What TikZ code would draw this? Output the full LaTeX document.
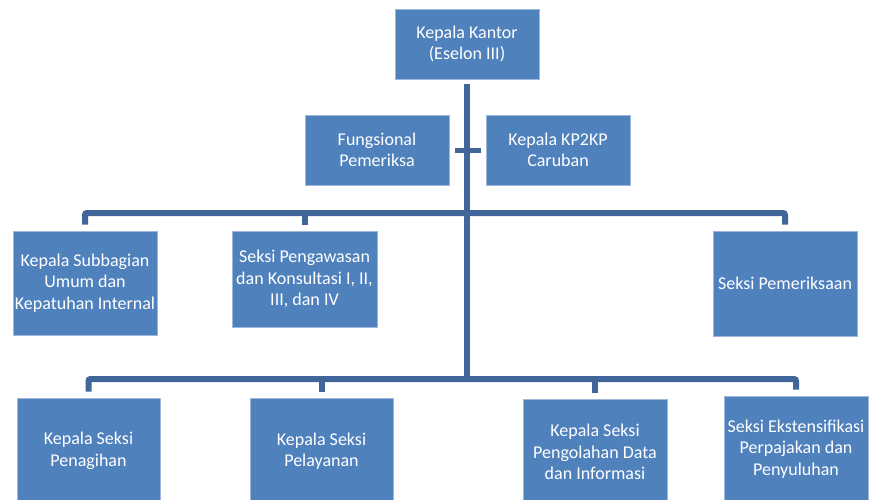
\documentclass[tikz,border=0pt]{standalone}
\usepackage{fontspec}
\setmainfont{Carlito}
\usepackage{xcolor}
\usetikzlibrary{positioning,calc}

\definecolor{boxblue}{HTML}{4F81BD}
\definecolor{boxedge}{HTML}{9DB8DC}
\definecolor{linkblue}{HTML}{41679A}

\tikzset{
  unit/.style={draw=boxedge, line width=0.6pt, fill=boxblue, text=white,
    align=center, inner sep=1pt, minimum width=144pt,
    font=\fontsize{18}{21.5}\selectfont},
  link/.style={draw=linkblue, line width=6pt, rounded corners=2pt}
}

\begin{document}
\begin{tikzpicture}[x=1pt, y=-1pt]
    \useasboundingbox (0,0) rectangle (873,499);

    % Top level
    \node[unit, minimum height=70pt] (kakan) at (467,44) {Kepala Kantor\\(Eselon III)};

    % Staff level
    \node[unit, minimum height=70pt] (fungsional) at (377,150) {Fungsional\\Pemeriksa};
    \node[unit, minimum height=70pt] (kp2kp) at (558,150) {Kepala KP2KP\\Caruban};

    % Second row
    \node[unit, minimum height=104pt] (subbag) at (85,283) {Kepala Subbagian\\Umum dan\\Kepatuhan Internal};
    \node[unit, minimum width=145pt, minimum height=96pt] (pengawasan) at (304.5,279) {Seksi Pengawasan\\dan Konsultasi I, II,\\III, dan IV};
    \node[unit, minimum height=105pt] (pemeriksaan) at (785,283.5) {Seksi Pemeriksaan};

    % Third row
    \node[unit, minimum width=143pt, minimum height=106pt] (penagihan) at (88.5,451) {Kepala Seksi\\Penagihan};
    \node[unit, minimum width=143pt, minimum height=106pt] (pelayanan) at (321.5,451) {Kepala Seksi\\Pelayanan};
    \node[unit, minimum height=106pt] (pdi) at (595,452) {Kepala Seksi\\Pengolahan Data\\dan Informasi};
    \node[unit, minimum height=106pt] (ekstensif) at (796,449) {Seksi Ekstensifikasi\\Perpajakan dan\\Penyuluhan};

    % Bus coordinates
    \coordinate (bus2) at (467,213);
    \coordinate (bus3) at (467,379);

    % Trunk and staff bar
    \draw[link, rounded corners=0pt] ([yshift=-5pt]kakan.south) -- (bus3);
    \draw[link, line width=5pt] ([xshift=6pt]fungsional.east) -- ([xshift=-5pt]kp2kp.west);

    % Second row connectors
    \draw[link] ([yshift=6pt]subbag.north) |- (bus2) -| ([yshift=6pt]pemeriksaan.north);
    \draw[link] ([yshift=6pt]pengawasan.north) -- (pengawasan.north |- bus2);

    % Third row connectors
    \draw[link] ([yshift=6pt]penagihan.north) |- (bus3) -| ([yshift=6pt]ekstensif.north);
    \draw[link] ([yshift=6pt]pelayanan.north) -- (pelayanan.north |- bus3);
    \draw[link] ([yshift=6pt]pdi.north) -- (pdi.north |- bus3);
\end{tikzpicture}
\end{document}
